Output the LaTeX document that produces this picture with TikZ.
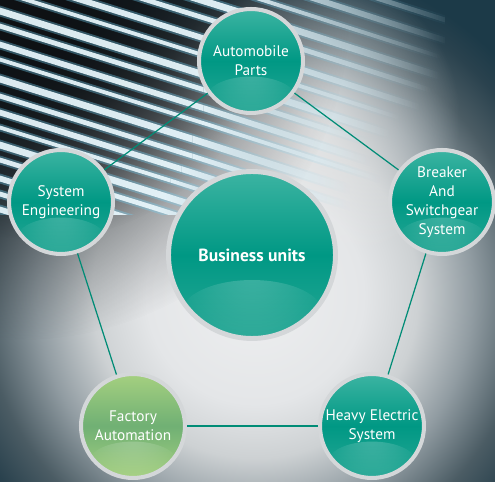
\documentclass[tikz,border=0pt]{standalone}
\usepackage{fontspec}
\setmainfont{PT Sans}
\usetikzlibrary{fadings}

\definecolor{unitteal}{RGB}{0,152,132}
\definecolor{unittealhi}{RGB}{60,180,162}
\definecolor{unittealgl}{RGB}{40,168,150}
\definecolor{unitgreen}{RGB}{112,176,116}
\definecolor{unitgreenhi}{RGB}{165,208,128}
\definecolor{ringsilver}{RGB}{212,215,217}
\definecolor{linkteal}{RGB}{0,140,118}
\definecolor{bgdeep}{RGB}{28,58,72}
\definecolor{bgA}{RGB}{238,239,240}
\definecolor{bgB}{RGB}{228,230,232}
\definecolor{bgC}{RGB}{205,209,211}
\definecolor{bgD}{RGB}{145,156,162}
\definecolor{bgE}{RGB}{75,92,100}
\definecolor{bgF}{RGB}{42,66,78}
\definecolor{streakcol}{RGB}{234,247,252}
\definecolor{streakdark}{RGB}{14,17,20}

\pgfdeclareradialshading{bgglow}{\pgfpoint{0bp}{0bp}}{color(0bp)=(bgA); color(8bp)=(bgB); color(12bp)=(bgC); color(16bp)=(bgD); color(20bp)=(bgE); color(23bp)=(bgF); color(25bp)=(bgdeep); color(50bp)=(bgdeep)}
\tikzfading[name=streakfade, left color=transparent!0, right color=transparent!100]
\tikzfading[name=softglow, inner color=transparent!30, outer color=transparent!100]
\tikzfading[name=darkglow, inner color=transparent!0, outer color=transparent!100]

\begin{document}
\begin{tikzpicture}[x=0.02cm, y=-0.02cm,
    unit/.style={circle, draw=ringsilver, line width=2.3pt, minimum size=2.08cm, inner sep=0pt,
      text=white, align=center, font=\fontsize{8.7}{10.8}\selectfont,
      top color=unittealhi, bottom color=unittealgl, middle color=unitteal,
      path picture={\fill[white, opacity=.35, path fading=softglow]
        ([yshift=0.3*#1]path picture bounding box.south) ellipse ({0.85*#1} and {0.4*#1});}},
    unit/.default=1.04cm,
    hub/.style={unit=1.67cm, minimum size=3.34cm, line width=2.8pt,
      font=\bfseries\fontsize{10}{12}\selectfont},
    greenunit/.style={unit, top color=unitgreenhi, bottom color=unitgreenhi, middle color=unitgreen},
    link/.style={draw=linkteal, line width=0.7pt}]
  \useasboundingbox (0,0) rectangle (495,482);
  \fill[bgdeep] (0,0) rectangle (495,482);
  \begin{scope}
    \clip (0,0) rectangle (495,482);
    \shade[shading=bgglow] (255,295) circle (340);
    \fill[white!85!gray, opacity=.8, path fading=darkglow] (310,120) circle (150);
    \fill[streakdark, path fading=darkglow] (20,10) circle (330);
    \fill[streakdark, path fading=darkglow] (40,10) circle (230);
  \end{scope}
  \begin{scope}
    \clip (0,0) rectangle (445,215);
    \foreach \y/\len/\w in {-125/460/5, -105/450/6, -86/440/4, -68/440/7, -50/430/5, -30/420/6,
        -12/400/4, 6/390/7, 22/370/5, 40/370/6, 56/380/4, 74/350/7, 92/350/5, 108/330/6,
        124/310/4, 140/300/7, 156/280/5, 174/250/6, 190/230/5, 205/210/6}
    {
      \pgfmathsetmacro\mid{0.55*\len}
      \fill[cyan!55!white, opacity=.35]
        (-5,\y-2) -- (\mid,\y+0.32*\mid-2) -- (\mid,\y+0.32*\mid+\w+2) -- (-5,\y+\w+2) -- cycle;
      \fill[cyan!55!white, opacity=.35, path fading=streakfade]
        (\mid,\y+0.32*\mid-2) -- (\len,\y+0.32*\len-2) -- (\len,\y+0.32*\len+\w+2) -- (\mid,\y+0.32*\mid+\w+2) -- cycle;
      \fill[streakcol, opacity=.92]
        (-5,\y) -- (\mid,\y+0.32*\mid) -- (\mid,\y+0.32*\mid+\w) -- (-5,\y+\w) -- cycle;
      \fill[streakcol, opacity=.92, path fading=streakfade]
        (\mid,\y+0.32*\mid) -- (\len,\y+0.32*\len) -- (\len,\y+0.32*\len+\w) -- (\mid,\y+0.32*\mid+\w) -- cycle;
    }
  \end{scope}

  \node[hub] (hub) at (252,255) {Business units};
  \node[unit] (auto) at (251,61) {Automobile\\Parts};
  \node[unit] (syseng) at (61,202) {System\\Engineering};
  \node[unit] (breaker) at (442,202) {Breaker\\And\\Switchgear\\System};
  \node[greenunit] (factory) at (133,426) {Factory\\Automation};
  \node[unit] (heavy) at (372,426) {Heavy Electric\\System};

  \draw[link] (auto) -- (syseng);
  \draw[link] (auto) -- (breaker);
  \draw[link] (syseng) -- (factory);
  \draw[link] (breaker) -- (heavy);
  \draw[link] (factory) -- (heavy);
\end{tikzpicture}
\end{document}
